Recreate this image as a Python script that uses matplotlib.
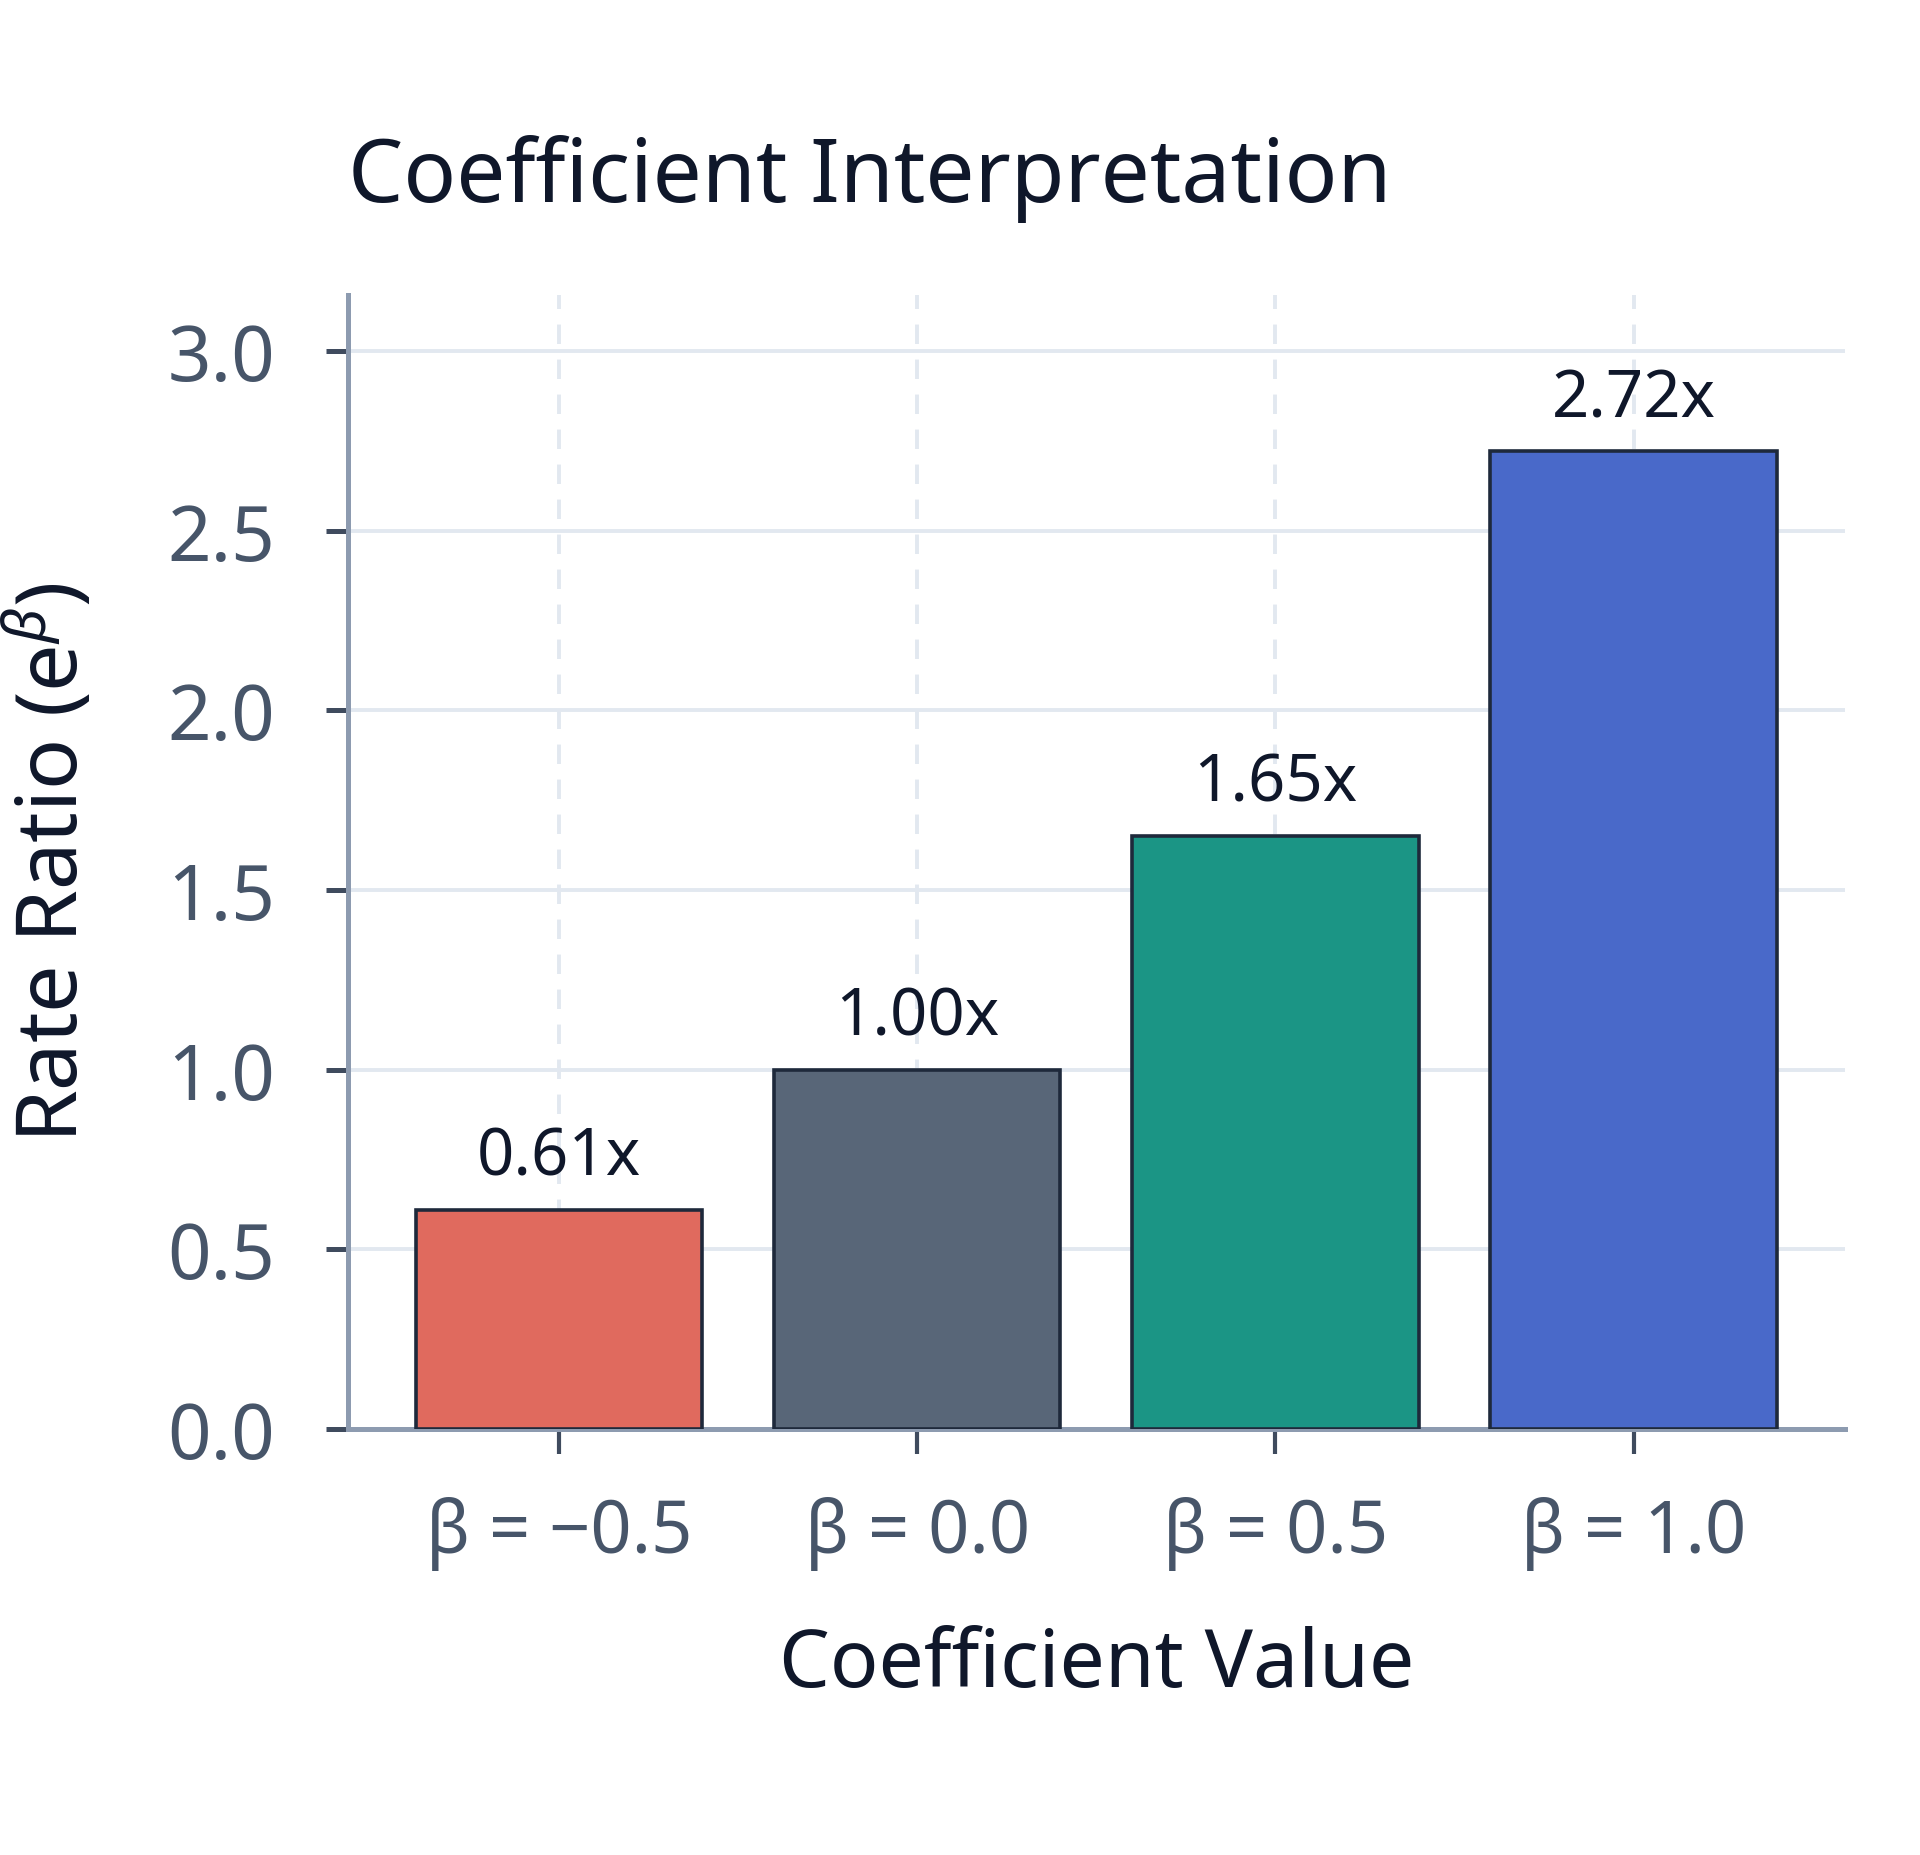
import matplotlib
matplotlib.use("Agg")
import matplotlib.pyplot as plt

plt.rcParams['font.family'] = ['Noto Sans', 'DejaVu Sans']
plt.rcParams['mathtext.fontset'] = 'custom'
plt.rcParams['mathtext.rm'] = 'Noto Sans'
plt.rcParams['mathtext.it'] = 'Noto Sans:italic'

categories = ["β = \u22120.5", "β = 0.0", "β = 0.5", "β = 1.0"]
rate_ratios = [0.61, 1.00, 1.65, 2.72]
bar_labels = ["0.61x", "1.00x", "1.65x", "2.72x"]
colors = ["#E06A5E", "#586678", "#1B9585", "#4969C9"]
yticks = [0.0, 0.5, 1.0, 1.5, 2.0, 2.5, 3.0]

fig = plt.figure(figsize=(9.6, 9.28), dpi=200)
ax = fig.add_axes([0.181, 0.2295, 0.78, 0.611])

x = list(range(len(categories)))
bars = ax.bar(x, rate_ratios, width=0.8, color=colors, edgecolor="#1E293B",
              linewidth=1.3, zorder=3)

for xi, v, lab in zip(x, rate_ratios, bar_labels):
    ax.annotate(lab, (xi, v), xytext=(0, 7), textcoords="offset points",
                ha="center", va="bottom", fontsize=23.5, color="#0F172A", zorder=4)

ax.set_ylim(0, max(rate_ratios) * 1.16)
ax.set_yticks(yticks)
ax.set_yticklabels([f"{t:.1f}" for t in yticks])
ax.set_xticks(x)
ax.set_xticklabels(categories)

ax.grid(axis="y", color="#E2E8F0", linewidth=1.4, linestyle="-", zorder=0)
ax.grid(axis="x", color="#E2E8F0", linewidth=1.4, linestyle=(0, (5, 4)), zorder=0)
ax.set_axisbelow(True)

for s in ["top", "right"]:
    ax.spines[s].set_visible(False)
for s in ["left", "bottom"]:
    ax.spines[s].set_color("#8D9BB0")
    ax.spines[s].set_linewidth(1.8)

ax.tick_params(axis="y", length=8, width=1.8, color="#3F4B5E", labelsize=27.5,
               labelcolor="#475569", pad=18)
ax.tick_params(axis="x", length=9, width=1.5, color="#3F4B5E", labelsize=26,
               labelcolor="#475569", pad=15)

ax.set_xlabel("Coefficient Value", fontsize=29, color="#0F172A", labelpad=20)
ax.set_ylabel(r"Rate Ratio (e$^{\beta}$)", fontsize=30.5, color="#0F172A", labelpad=25)
ax.set_title("Coefficient Interpretation", fontsize=31.5, color="#0F172A",
             loc="left", pad=34)

fig.savefig("out.png", dpi=200, facecolor="white")
